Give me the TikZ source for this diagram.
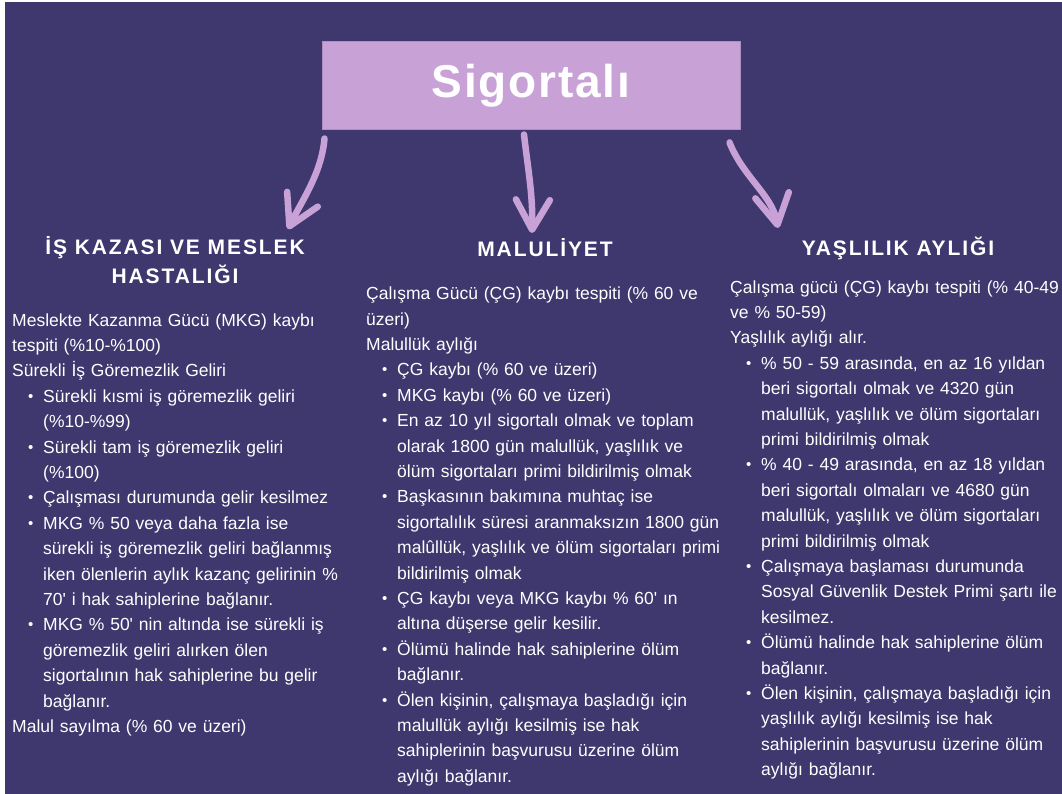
\documentclass[tikz,border=0pt]{standalone}
\usepackage{fontspec}
\usetikzlibrary{positioning,arrows.meta}

\newfontfamily\bodyfont{Liberation Sans}
\newfontfamily\headfont[LetterSpace=9]{Liberation Sans Bold}
\newfontfamily\titlefont[LetterSpace=4]{Liberation Sans Bold}

\definecolor{bgpurple}{RGB}{63,56,110}
\definecolor{lilac}{RGB}{200,162,214}
\definecolor{lilacedge}{RGB}{172,142,192}

\setlength{\parindent}{0pt}
\setlength{\parskip}{0pt}

% bullet paragraph with hanging indent
\newcommand\bitem{\par\hangindent=31pt\hangafter=1\noindent\hspace*{16pt}%
  \makebox[15pt][l]{\raisebox{1pt}{\fontsize{15}{15}\selectfont •}}}

\tikzset{
  titlebox/.style={rectangle, fill=lilac, draw=lilacedge, line width=1pt,
    minimum width=418pt, minimum height=88pt, text=white,
    font=\titlefont\fontsize{46}{50}\selectfont},
  heading/.style={anchor=north, align=center, inner sep=0pt, text=white,
    font=\headfont\fontsize{21}{29.3}\selectfont,
    execute at begin node=\strut},
  column/.style={anchor=north west, align=left, text width=380pt, inner sep=0pt,
    text=white, font=\bodyfont\fontsize{17.5}{25.4}\selectfont,
    execute at begin node=\strut},
  bendarrow/.style={draw=lilac, line width=6.5pt, line cap=round,
    -{Straight Barb[length=30pt, width=34pt, line width=6.5pt, round]}},
}

\begin{document}
\begin{tikzpicture}[x=1pt, y=-1pt]
    \useasboundingbox (0,0) rectangle (1062,794);
    \fill[white] (0,0) rectangle (1062,794);
    \fill[bgpurple] (5,2) rectangle (1062,794);

    \node [titlebox] (title) at (531,86) {Sigortalı};

    \node [heading] (headA) at (175,236.2) {İŞ KAZASI VE MESLEK\\HASTALIĞI};
    \node [heading] (headB) at (545,235.5) {MALULİYET};
    \node [heading] (headC) at (898,234.5) {YAŞLILIK AYLIĞI};

    % arrow ends
    \coordinate (s1) at ([shift={(3,8)}]title.south west);
    \coordinate (s2) at ([shift={(-7,4)}]title.south);
    \coordinate (s3) at ([shift={(-11,12)}]title.south east);
    \coordinate (e1) at ([shift={(113,-7)}]headA.north);
    \coordinate (e2) at ([shift={(-13,-2.5)}]headB.north);
    \coordinate (e3) at ([shift={(-120,-6.5)}]headC.north);

    \draw [bendarrow] (s1) .. controls +(-3,35) and +(14,-29) .. (e1);
    \draw [bendarrow] (s2) .. controls +(4,35) and +(1,-38) .. (e2);
    \draw [bendarrow] (s3) .. controls +(14,35) and +(-6,-33) .. (e3);

    \node [column] (colA) at (12,308.2) {Meslekte Kazanma Gücü (MKG) kaybı\newline tespiti (\%10-\%100)\par
        Sürekli İş Göremezlik Geliri
        \bitem Sürekli kısmi iş göremezlik geliri\newline (\%10-\%99)
        \bitem Sürekli tam iş göremezlik geliri\newline (\%100)
        \bitem Çalışması durumunda gelir kesilmez
        \bitem MKG \% 50 veya daha fazla ise\newline sürekli iş göremezlik geliri bağlanmış\newline iken ölenlerin aylık kazanç gelirinin \%\newline 70' i hak sahiplerine bağlanır.
        \bitem MKG \% 50' nin altında ise sürekli iş\newline göremezlik geliri alırken ölen\newline sigortalının hak sahiplerine bu gelir\newline bağlanır.
        \par Malul sayılma (\% 60 ve üzeri)\par};

    \node [column] (colB) at (366,281.7) {Çalışma Gücü (ÇG) kaybı tespiti (\% 60 ve\newline üzeri)\par
        Malullük aylığı
        \bitem ÇG kaybı (\% 60 ve üzeri)
        \bitem MKG kaybı (\% 60 ve üzeri)
        \bitem En az 10 yıl sigortalı olmak ve toplam\newline olarak 1800 gün malullük, yaşlılık ve\newline ölüm sigortaları primi bildirilmiş olmak
        \bitem Başkasının bakımına muhtaç ise\newline sigortalılık süresi aranmaksızın 1800 gün\newline malûllük, yaşlılık ve ölüm sigortaları primi\newline bildirilmiş olmak
        \bitem ÇG kaybı veya MKG kaybı \% 60' ın\newline altına düşerse gelir kesilir.
        \bitem Ölümü halinde hak sahiplerine ölüm\newline bağlanır.
        \bitem Ölen kişinin, çalışmaya başladığı için\newline malullük aylığı kesilmiş ise hak\newline sahiplerinin başvurusu üzerine ölüm\newline aylığı bağlanır.\par};

    \node [column] (colC) at (730,275.2) {Çalışma gücü (ÇG) kaybı tespiti (\% 40-49\newline ve \% 50-59)\par
        Yaşlılık aylığı alır.
        \bitem \% 50 - 59 arasında, en az 16 yıldan\newline beri sigortalı olmak ve 4320 gün\newline malullük, yaşlılık ve ölüm sigortaları\newline primi bildirilmiş olmak
        \bitem \% 40 - 49 arasında, en az 18 yıldan\newline beri sigortalı olmaları ve 4680 gün\newline malullük, yaşlılık ve ölüm sigortaları\newline primi bildirilmiş olmak
        \bitem Çalışmaya başlaması durumunda\newline Sosyal Güvenlik Destek Primi şartı ile\newline kesilmez.
        \bitem Ölümü halinde hak sahiplerine ölüm\newline bağlanır.
        \bitem Ölen kişinin, çalışmaya başladığı için\newline yaşlılık aylığı kesilmiş ise hak\newline sahiplerinin başvurusu üzerine ölüm\newline aylığı bağlanır.\par};
\end{tikzpicture}
\end{document}
